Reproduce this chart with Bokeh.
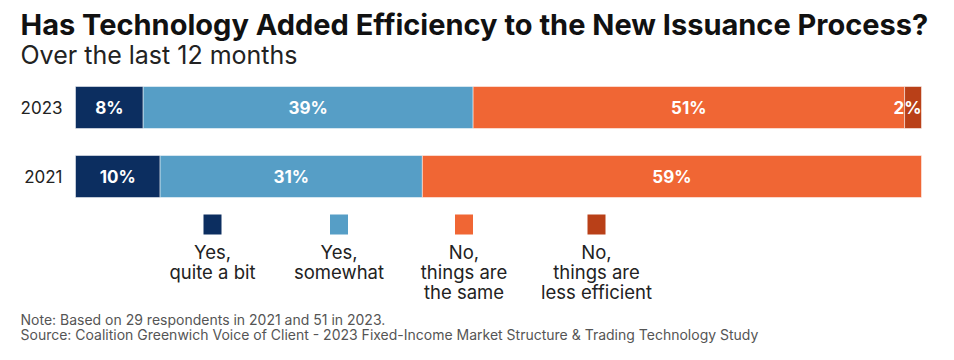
from bokeh.plotting import figure
from bokeh.models import Range1d, Label, ColumnDataSource
from bokeh.core.properties import value
from bokeh.embed import file_html
from bokeh.resources import INLINE

# ---- data ----
years = ["2023", "2021"]
categories = ["Yes, quite a bit", "Yes, somewhat", "No, things are the same", "No, things are less efficient"]
legend_labels = ["Yes,\nquite a bit", "Yes,\nsomewhat", "No,\nthings are\nthe same", "No,\nthings are\nless efficient"]
values_2023 = [8, 39, 51, 2]
values_2021 = [10, 31, 59, 0]
colors = ["#0c2e60", "#569ec6", "#f06634", "#b94018"]
title_text = "Has Technology Added Efficiency to the New Issuance Process?"
subtitle_text = "Over the last 12 months"
note_lines = ["Note: Based on 29 respondents in 2021 and 51 in 2023.",
              "Source: Coalition Greenwich Voice of Client - 2023 Fixed-Income Market Structure & Trading Technology Study"]

FONT = "Inter"
W, H = 952, 358
PX_LEFT, PX_RIGHT = 75, 921
k = (PX_RIGHT - PX_LEFT) / 100.0
ROW_PX = 69.0
TOP0 = 107.0  # pixel centre of first row from top
BASE_FIX = 0.31  # compensate baseline offset (em)
LABEL_HALF_PX = 14  # keep value labels inside the bar end

def yv(px):
    """pixel row (from top) -> data y"""
    return (px - TOP0) / ROW_PX

p = figure(width=W, height=H, output_backend="svg", toolbar_location=None,
           x_range=Range1d(-PX_LEFT / k, (W - PX_LEFT) / k),
           y_range=Range1d(yv(H), yv(0)),
           min_border=0, outline_line_color=None)
p.axis.visible = False
p.grid.visible = False
p.background_fill_color = "white"

series = {"2023": values_2023, "2021": values_2021}
lefts, rights, ys, cols, mids, labs = [], [], [], [], [], []
for i, yr in enumerate(years):
    vals = series[yr]
    total = sum(vals)
    acc = 0
    for j, v in enumerate(vals):
        if v <= 0:
            continue
        lefts.append(acc); rights.append(acc + v); ys.append(i); cols.append(colors[j])
        mids.append(min(acc + v / 2.0, total - LABEL_HALF_PX / k)); labs.append(f"{v}%")
        acc += v

src = ColumnDataSource(dict(left=lefts, right=rights, y=ys, color=cols, mid=mids, lab=labs))
p.hbar(y="y", left="left", right="right", height=42 / ROW_PX, fill_color="color",
       line_color="white", line_width=0.5, source=src)
p.text(x="mid", y="y", text="lab", source=src, text_color="white", text_font=value(FONT),
       text_font_size="17px", text_font_style="bold", text_align="center", text_baseline="middle")

# year labels
p.text(x=[0] * len(years), y=list(range(len(years))), text=years, x_offset=-13,
       text_font=value(FONT), text_font_size="17px", text_color="#222222",
       text_align="right", text_baseline="middle")

# legend
leg_px = [212, 338.5, 463.5, 596]
leg_x = [(x - PX_LEFT) / k for x in leg_px]
p.rect(x=leg_x, y=[yv(224)] * 4, width=18, height=20, width_units="screen", height_units="screen",
       fill_color=colors, line_color=None)
LEG_FS = 18.5
lx, ly, lt = [], [], []
for x, lab in zip(leg_x, legend_labels):
    for n, line in enumerate(lab.split("\n")):
        lx.append(x); ly.append(yv(257 + 20 * n - BASE_FIX * LEG_FS)); lt.append(line)
p.text(x=lx, y=ly, text=lt, text_font=value(FONT), text_font_size=f"{LEG_FS}px",
       text_color="#222222", text_align="center", text_baseline="alphabetic")

# titles and notes
def add_label(text, baseline_px, size, style="normal", color="#222222"):
    p.add_layout(Label(x=20, y=H - baseline_px + BASE_FIX * size, x_units="screen", y_units="screen",
                       text=text, text_font=FONT, text_font_size=f"{size}px", text_font_style=style,
                       text_color=color, text_baseline="alphabetic"))

add_label(title_text, 33, 29, "bold", "#111111")
add_label(subtitle_text, 62, 25)
for n, line in enumerate(note_lines):
    add_label(line, 323 + 15 * n, 14, color="#555555")

open("out.html", "w").write(file_html(p, INLINE))
